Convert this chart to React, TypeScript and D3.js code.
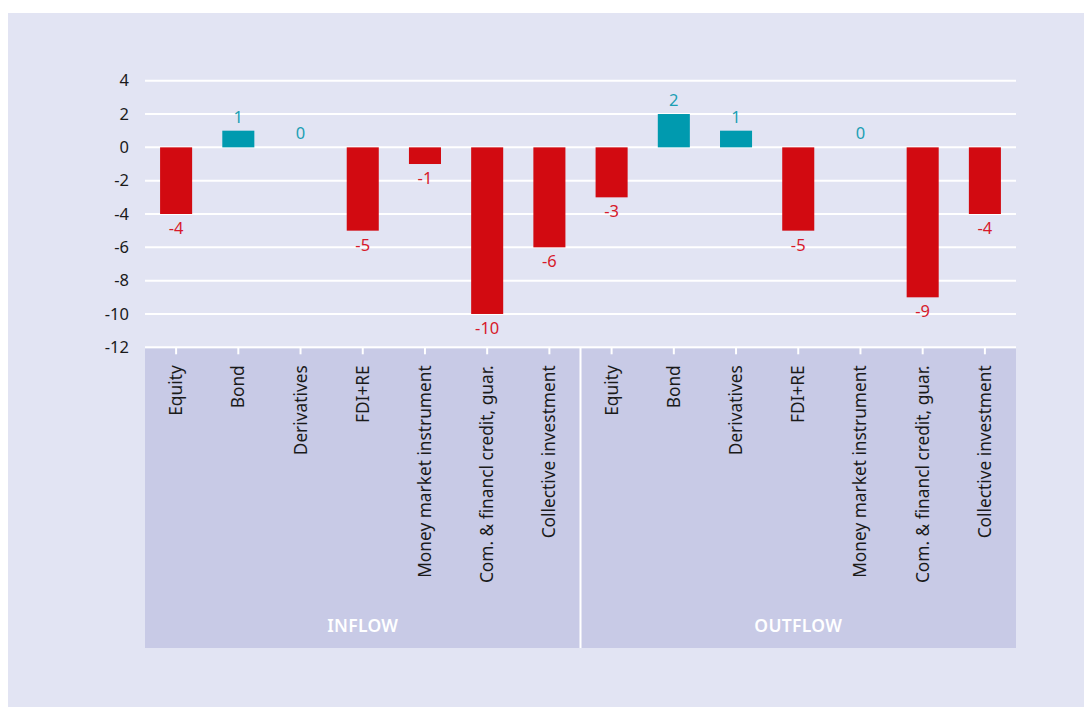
import React from "react";
import * as d3 from "d3";

const categories = [
  "Equity",
  "Bond",
  "Derivatives",
  "FDI+RE",
  "Money market instrument",
  "Com. & financl credit, guar.",
  "Collective investment",
];
const groups = ["INFLOW", "OUTFLOW"];
const inflowValues = [-4, 1, 0, -5, -1, -10, -6];
const outflowValues = [-3, 2, 1, -5, 0, -9, -4];
const yTicks = [4, 2, 0, -2, -4, -6, -8, -10, -12];

const W = 1084;
const H = 707;
const left = 145;
const right = 1016;
const top = 80.7;
const bottom = 347.3;
const panelBottom = 648;
const RED = "#d20a11";
const TEAL = "#009aaf";
const RED_T = "#d7192a";
const TEAL_T = "#1b9fb4";
const FONT = "'Noto Sans', 'Open Sans', sans-serif";

type Row = { key: string; group: string; cat: string; value: number };

export default function App() {
  const rows: Row[] = [];
  groups.forEach((g, gi) => {
    const vals = gi === 0 ? inflowValues : outflowValues;
    categories.forEach((c, i) => rows.push({ key: g + "|" + c, group: g, cat: c, value: vals[i] }));
  });

  const x = d3
    .scaleBand<string>()
    .domain(rows.map((r) => r.key))
    .range([left, right])
    .paddingInner(0.485)
    .paddingOuter(0.2425);
  const y = d3.scaleLinear().domain([-12, 4]).range([bottom, top]);
  const step = x.step();
  const center = (k: string) => (x(k) as number) + x.bandwidth() / 2;

  const groupStart = (gi: number) => left + gi * categories.length * step;

  return (
    <svg
      width={W}
      height={H}
      style={{ position: "absolute", left: 0, top: 0 }}
      fontFamily={FONT}
    >
      <rect x={0} y={0} width={W} height={H} fill="#ffffff" />
      <rect x={8} y={13} width={W - 8} height={H - 13} fill="#e2e4f3" />
      <rect x={left} y={bottom + 1} width={right - left} height={panelBottom - bottom - 1} fill="#c8cae6" />
      {/* group separator */}
      <line
        x1={groupStart(1)}
        x2={groupStart(1)}
        y1={bottom}
        y2={panelBottom}
        stroke="#ffffff"
        strokeWidth={2}
      />
      {/* gridlines */}
      {yTicks.map((t) => (
        <g key={t}>
          <line x1={left} x2={right} y1={y(t)} y2={y(t)} stroke="#ffffff" strokeWidth={2} />
          <text
            x={129}
            y={y(t)}
            dy="0.35em"
            textAnchor="end"
            fontSize={16.5}
            fill="#1a1a1a"
          >
            {t}
          </text>
        </g>
      ))}
      {/* ticks */}
      {rows.map((r) => (
        <line
          key={"t" + r.key}
          x1={center(r.key)}
          x2={center(r.key)}
          y1={bottom}
          y2={bottom + 7}
          stroke="#ffffff"
          strokeWidth={2}
        />
      ))}
      {/* bars */}
      {rows.map((r) =>
        r.value === 0 ? null : (
          <rect
            key={"b" + r.key}
            x={x(r.key)}
            width={x.bandwidth()}
            y={Math.min(y(r.value), y(0))}
            height={Math.abs(y(r.value) - y(0))}
            fill={r.value < 0 ? RED : TEAL}
          />
        )
      )}
      {/* value labels */}
      {rows.map((r) => (
        <text
          key={"v" + r.key}
          x={center(r.key)}
          y={r.value < 0 ? y(r.value) + 20 : y(r.value) - 8}
          textAnchor="middle"
          fontSize={16.5}
          fill={r.value < 0 ? RED_T : TEAL_T}
        >
          {r.value}
        </text>
      ))}
      {/* category labels */}
      {rows.map((r) => (
        <text
          key={"c" + r.key}
          transform={`translate(${center(r.key) + 6},${bottom + 18}) rotate(-90)`}
          textAnchor="end"
          fontSize={17.3}
          fill="#1a1a1a"
        >
          {r.cat}
        </text>
      ))}
      {/* group labels */}
      {groups.map((g, gi) => (
        <text
          key={g}
          x={groupStart(gi) + (categories.length * step) / 2}
          y={626}
          dy="0.35em"
          textAnchor="middle"
          fontSize={17.5}
          fontWeight={600}
          letterSpacing={0.3}
          fill="#ffffff"
        >
          {g}
        </text>
      ))}
    </svg>
  );
}
